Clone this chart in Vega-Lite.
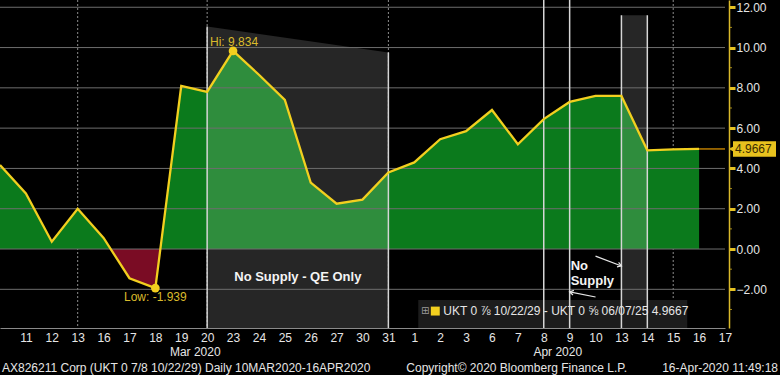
{
  "$schema": "https://vega.github.io/schema/vega-lite/v6.json",
  "width": 729,
  "height": 328,
  "autosize": "none",
  "padding": {"left": 0, "top": 0, "right": 51, "bottom": 47},
  "background": "#000000",
  "config": {"view": {"stroke": null}, "font": "Liberation Sans"},
  "datasets": {
    "series": [
      {"date": "2020-03-10", "v": 4.17},
      {"date": "2020-03-11", "v": 2.76},
      {"date": "2020-03-12", "v": 0.36},
      {"date": "2020-03-13", "v": 2.0},
      {"date": "2020-03-16", "v": 0.55},
      {"date": "2020-03-17", "v": -1.45},
      {"date": "2020-03-18", "v": -1.939},
      {"date": "2020-03-19", "v": 8.1},
      {"date": "2020-03-20", "v": 7.8},
      {"date": "2020-03-23", "v": 9.834},
      {"date": "2020-03-24", "v": 8.65},
      {"date": "2020-03-25", "v": 7.4},
      {"date": "2020-03-26", "v": 3.3},
      {"date": "2020-03-27", "v": 2.25},
      {"date": "2020-03-30", "v": 2.45},
      {"date": "2020-03-31", "v": 3.8},
      {"date": "2020-04-01", "v": 4.3},
      {"date": "2020-04-02", "v": 5.45},
      {"date": "2020-04-03", "v": 5.85},
      {"date": "2020-04-06", "v": 6.9},
      {"date": "2020-04-07", "v": 5.2},
      {"date": "2020-04-08", "v": 6.45},
      {"date": "2020-04-09", "v": 7.3},
      {"date": "2020-04-10", "v": 7.6},
      {"date": "2020-04-13", "v": 7.6},
      {"date": "2020-04-14", "v": 4.9},
      {"date": "2020-04-15", "v": 4.95},
      {"date": "2020-04-16", "v": 4.9667}
    ],
    "hgrid": [
      {"date": "2020-03-10", "date2": "2020-04-17", "g": -2},
      {"date": "2020-03-10", "date2": "2020-04-17", "g": 0},
      {"date": "2020-03-10", "date2": "2020-04-17", "g": 2},
      {"date": "2020-03-10", "date2": "2020-04-17", "g": 4},
      {"date": "2020-03-10", "date2": "2020-04-17", "g": 6},
      {"date": "2020-03-10", "date2": "2020-04-17", "g": 8},
      {"date": "2020-03-10", "date2": "2020-04-17", "g": 10},
      {"date": "2020-03-10", "date2": "2020-04-17", "g": 12}
    ]
  },
  "encoding": {
    "x": {
      "field": "date",
      "type": "ordinal",
      "scale": {
        "type": "point",
        "padding": 0,
        "range": [0, 725],
        "domain": ["2020-03-10","2020-03-11","2020-03-12","2020-03-13","2020-03-16","2020-03-17","2020-03-18","2020-03-19","2020-03-20","2020-03-23","2020-03-24","2020-03-25","2020-03-26","2020-03-27","2020-03-30","2020-03-31","2020-04-01","2020-04-02","2020-04-03","2020-04-06","2020-04-07","2020-04-08","2020-04-09","2020-04-10","2020-04-13","2020-04-14","2020-04-15","2020-04-16","2020-04-17"]
      },
      "axis": {
        "title": null,
        "labelAngle": 0,
        "labelExpr": "datum.value == '2020-03-10' ? '' : toString(toNumber(substring(datum.value, 8, 10)))",
        "labelColor": "#e6e6e6",
        "labelFontSize": 12,
        "labelPadding": 4,
        "ticks": false,
        "domainColor": "#8a8a8a",
        "domainWidth": 1,
        "grid": false,
        "zindex": 1
      }
    }
  },
  "layer": [
    {
      "data": {"values": [{"date": "2020-03-13"}, {"date": "2020-03-20"}, {"date": "2020-03-31"}, {"date": "2020-04-15"}]},
      "mark": {"type": "rule", "color": "#8c8c8c", "strokeDash": [2, 2], "strokeWidth": 1}
    },
    {
      "data": {"name": "series"},
      "mark": {
        "type": "area",
        "color": {
          "gradient": "linear",
          "x1": 0, "y1": 0, "x2": 0, "y2": 1,
          "stops": [
            {"offset": 0, "color": "#0b7a1c"},
            {"offset": 0.8353, "color": "#0b7a1c"},
            {"offset": 0.8353, "color": "#7a0c24"},
            {"offset": 1, "color": "#7a0c24"}
          ]
        }
      },
      "encoding": {
        "y": {
          "field": "v",
          "type": "quantitative",
          "scale": {"domain": [-3.92, 12.36], "nice": false, "zero": false},
          "axis": {
            "orient": "right",
            "title": null,
            "values": [-2, 0, 2, 4, 6, 8, 10, 12],
            "format": ".2f",
            "labelColor": "#e6e6e6",
            "labelFontSize": 12,
            "labelPadding": 1,
            "domainColor": "#d9b92a",
            "domainWidth": 1.5,
            "tickColor": "#e5c222",
            "tickSize": 6,
            "tickWidth": 3,
            "grid": false,
            "zindex": 1
          }
        },
        "y2": {"datum": 0}
      }
    },
    {
      "data": {"values": [{"date": "2020-03-20", "top": 11.05}, {"date": "2020-03-31", "top": 9.75}]},
      "mark": {"type": "area", "color": "#ffffff", "opacity": 0.15},
      "encoding": {
        "y": {"field": "top", "type": "quantitative"},
        "y2": {"datum": -3.92}
      }
    },
    {
      "data": {"values": [{"date": "2020-04-13", "date2": "2020-04-14", "top": 11.6}]},
      "mark": {"type": "rect", "color": "#ffffff", "opacity": 0.15},
      "encoding": {
        "x2": {"field": "date2"},
        "y": {"field": "top", "type": "quantitative"},
        "y2": {"datum": -3.92}
      }
    },
    {
      "data": {"values": [{"date": "2020-04-01", "date2": "2020-04-15"}]},
      "mark": {"type": "rect", "color": "#1c1c1c", "xOffset": 4, "x2Offset": 14},
      "encoding": {
        "x2": {"field": "date2"},
        "y": {"datum": -2.53, "type": "quantitative"},
        "y2": {"datum": -3.92}
      }
    },
    {
      "data": {"name": "hgrid"},
      "mark": {"type": "rule", "stroke": "#6e6e6e", "strokeWidth": 1},
      "encoding": {
        "x2": {"field": "date2"},
        "y": {"field": "g", "type": "quantitative"}
      }
    },
    {
      "data": {"values": [
        {"date": "2020-03-20", "top": 11.05},
        {"date": "2020-03-31", "top": 9.75},
        {"date": "2020-04-08", "top": 12.36},
        {"date": "2020-04-09", "top": 12.36},
        {"date": "2020-04-13", "top": 11.6},
        {"date": "2020-04-14", "top": 11.6}
      ]},
      "mark": {"type": "rule", "color": "#d6d6d6", "strokeWidth": 1.5},
      "encoding": {
        "y": {"field": "top", "type": "quantitative"},
        "y2": {"datum": -3.92}
      }
    },
    {
      "data": {"values": [{"date": "2020-04-17", "m": -3}, {"date": "2020-04-17", "m": -1}, {"date": "2020-04-17", "m": 1}, {"date": "2020-04-17", "m": 3}, {"date": "2020-04-17", "m": 5}, {"date": "2020-04-17", "m": 7}, {"date": "2020-04-17", "m": 9}, {"date": "2020-04-17", "m": 11}]},
      "mark": {"type": "tick", "orient": "horizontal", "color": "#e5c222", "size": 3, "thickness": 1, "xOffset": 5.5},
      "encoding": {"y": {"field": "m", "type": "quantitative"}}
    },
    {
      "data": {"name": "series"},
      "mark": {"type": "line", "color": "#f2cf1f", "strokeWidth": 2.3},
      "encoding": {"y": {"field": "v", "type": "quantitative"}}
    },
    {
      "data": {"values": [{"date": "2020-04-16", "date2": "2020-04-17", "v": 4.9667}]},
      "mark": {"type": "rule", "color": "#e89a00", "strokeWidth": 1.2},
      "encoding": {
        "x2": {"field": "date2"},
        "y": {"field": "v", "type": "quantitative"}
      }
    },
    {
      "data": {"values": [{"date": "2020-03-23", "v": 9.834}, {"date": "2020-03-18", "v": -1.939}]},
      "mark": {"type": "point", "filled": true, "color": "#f2cf1f", "size": 75, "opacity": 1},
      "encoding": {"y": {"field": "v", "type": "quantitative"}}
    },
    {
      "data": {"values": [{"date": "2020-03-23", "v": 9.834, "t": "Hi: 9.834"}]},
      "mark": {"type": "text", "color": "#d9bb2c", "fontSize": 12, "dy": -9, "dx": 1, "align": "center", "baseline": "middle"},
      "encoding": {"y": {"field": "v", "type": "quantitative"}, "text": {"field": "t"}}
    },
    {
      "data": {"values": [{"date": "2020-03-18", "v": -1.939, "t": "Low: -1.939"}]},
      "mark": {"type": "text", "color": "#d9bb2c", "fontSize": 12, "dy": 9, "align": "center", "baseline": "middle"},
      "encoding": {"y": {"field": "v", "type": "quantitative"}, "text": {"field": "t"}}
    },
    {
      "data": {"values": [{"date": "2020-03-25", "t": "No Supply - QE Only"}]},
      "mark": {"type": "text", "color": "#f4f4f4", "fontSize": 13, "fontWeight": "bold", "dx": 13, "align": "center", "baseline": "middle"},
      "encoding": {"y": {"datum": -1.39, "type": "quantitative"}, "text": {"field": "t"}}
    },
    {
      "data": {"values": [{"date": "2020-04-09", "t": "No", "yy": -0.84}, {"date": "2020-04-09", "t": "Supply", "yy": -1.59}]},
      "mark": {"type": "text", "color": "#f4f4f4", "fontSize": 13, "fontWeight": "bold", "dx": 1, "align": "left", "baseline": "middle"},
      "encoding": {"y": {"field": "yy", "type": "quantitative"}, "text": {"field": "t"}}
    },
    {
      "data": {"values": [
        {"date": "2020-04-10", "date2": "2020-04-13", "a": -0.35, "b": -0.84},
        {"date": "2020-04-10", "date2": "2020-04-09", "a": -2.38, "b": -2.13}
      ]},
      "mark": {"type": "rule", "color": "#e8e8e8", "strokeWidth": 1.2},
      "encoding": {
        "x2": {"field": "date2"},
        "y": {"field": "a", "type": "quantitative"},
        "y2": {"field": "b"}
      }
    },
    {
      "data": {"values": [{"date": "2020-04-13", "b": -0.84}]},
      "mark": {"type": "point", "shape": "M-1,-0.6L0,0L-1,0.6", "filled": false, "color": "#e8e8e8", "strokeWidth": 1.2, "size": 60, "angle": 20, "opacity": 1},
      "encoding": {"y": {"field": "b", "type": "quantitative"}}
    },
    {
      "data": {"values": [{"date": "2020-04-09", "b": -2.13}]},
      "mark": {"type": "point", "shape": "M-1,-0.6L0,0L-1,0.6", "filled": false, "color": "#e8e8e8", "strokeWidth": 1.2, "size": 60, "angle": 191, "opacity": 1},
      "encoding": {"y": {"field": "b", "type": "quantitative"}}
    },
    {
      "data": {"values": [{"date": "2020-04-01"}]},
      "mark": {"type": "text", "color": "#9a9a9a", "fontSize": 10, "dx": 11, "align": "center", "baseline": "middle", "font": "DejaVu Sans"},
      "encoding": {"y": {"datum": -3.08, "type": "quantitative"}, "text": {"value": "⊞"}}
    },
    {
      "data": {"values": [{"date": "2020-04-01"}]},
      "mark": {"type": "point", "shape": "square", "filled": true, "color": "#f2cf1f", "size": 80, "xOffset": 21, "opacity": 1},
      "encoding": {"y": {"datum": -3.08, "type": "quantitative"}}
    },
    {
      "data": {"values": [{"date": "2020-04-01", "t": "UKT 0 ⅞ 10/22/29 - UKT 0 ⅝ 06/07/25 4.9667"}]},
      "mark": {"type": "text", "color": "#e6e6e6", "fontSize": 12, "dx": 29, "align": "left", "baseline": "middle"},
      "encoding": {"y": {"datum": -3.08, "type": "quantitative"}, "text": {"field": "t"}}
    },
    {
      "data": {"values": [{"date": "2020-04-17"}]},
      "mark": {"type": "rect", "color": "#e8c21e", "xOffset": 8, "x2Offset": 51},
      "encoding": {
        "x2": {"field": "date"},
        "y": {"datum": 5.35, "type": "quantitative"},
        "y2": {"datum": 4.58}
      }
    },
    {
      "data": {"values": [{"date": "2020-04-17"}]},
      "mark": {"type": "point", "shape": "triangle-left", "filled": true, "color": "#e8c21e", "size": 50, "xOffset": 7, "opacity": 1},
      "encoding": {"y": {"datum": 4.9667, "type": "quantitative"}}
    },
    {
      "data": {"values": [{"date": "2020-04-17", "t": "4.9667"}]},
      "mark": {"type": "text", "color": "#3a2c00", "fontSize": 12, "dx": 10, "align": "left", "baseline": "middle"},
      "encoding": {"y": {"datum": 4.9667, "type": "quantitative"}, "text": {"field": "t"}}
    },
    {
      "data": {"values": [{"date": "2020-03-19", "t": "Mar 2020"}, {"date": "2020-04-08", "t": "Apr 2020"}]},
      "mark": {"type": "text", "color": "#e6e6e6", "fontSize": 12, "dx": 14, "align": "center", "baseline": "middle"},
      "encoding": {"y": {"datum": -5.11, "type": "quantitative"}, "text": {"field": "t"}}
    },
    {
      "data": {"values": [{"date": "2020-03-10", "t": "AX826211 Corp (UKT 0 7/8 10/22/29)  Daily 10MAR2020-16APR2020"}]},
      "mark": {"type": "text", "color": "#e6e6e6", "fontSize": 12, "dx": 2, "align": "left", "baseline": "middle"},
      "encoding": {"y": {"datum": -5.9, "type": "quantitative"}, "text": {"field": "t"}}
    },
    {
      "data": {"values": [{"date": "2020-04-01", "t": "Copyright© 2020 Bloomberg Finance L.P."}]},
      "mark": {"type": "text", "color": "#e6e6e6", "fontSize": 12, "dx": -8, "align": "left", "baseline": "middle"},
      "encoding": {"y": {"datum": -5.9, "type": "quantitative"}, "text": {"field": "t"}}
    },
    {
      "data": {"values": [{"date": "2020-04-17", "t": "16-Apr-2020 11:49:18"}]},
      "mark": {"type": "text", "color": "#e6e6e6", "fontSize": 12, "dx": 53, "align": "right", "baseline": "middle"},
      "encoding": {"y": {"datum": -5.9, "type": "quantitative"}, "text": {"field": "t"}}
    }
  ]
}
